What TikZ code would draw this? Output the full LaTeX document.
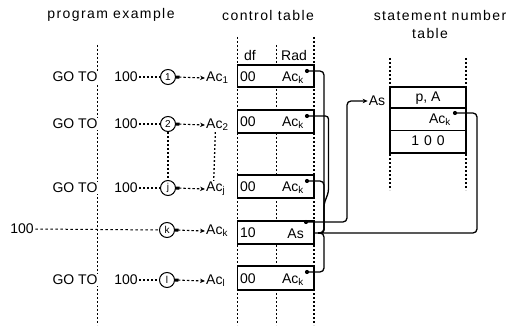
\documentclass[tikz,border=0pt]{standalone}
\usepackage{fontspec}
\setmainfont{Liberation Sans}
\newfontfamily\hdfont{Liberation Sans}[LetterSpace=10]
\usetikzlibrary{arrows.meta}
\begin{document}
\begin{tikzpicture}[x=1pt,y=-1pt,
  every node/.style={inner sep=1pt, font=\fontsize{14}{16}\selectfont},
  hd/.style={font=\hdfont\fontsize{14}{16}\selectfont},
  dotv/.style={line width=1.3pt, dash pattern=on 1.8pt off 2.2pt},
  dashh/.style={line width=1pt, dash pattern=on 2.6pt off 2.4pt},
  cell/.style={draw, line width=1.3pt, fill=white},
  circ/.style={draw, circle, line width=1pt, minimum size=15pt, inner sep=0pt, font=\fontsize{10}{11}\selectfont},
  lnk/.style={line width=1.3pt, rounded corners=4pt},
  ptr/.style={circle, fill, inner sep=0pt, minimum size=4.2pt},
  darr/.style={line width=1.1pt, dash pattern=on 2.5pt off 2pt, {Square[length=3.5pt,width=3pt]}-{Stealth[length=5pt,width=4.5pt]}},
  blank/.style={fill=white, inner sep=1.5pt},
]
\useasboundingbox (0,0) rectangle (517,329);

% dotted verticals
\draw[dotv] (97.5,45) -- (97.5,325);
\draw[dotv] (237.5,37) -- (237.5,325);
\draw[dotv] (276.5,45) -- (276.5,325);
\draw[dotv] (314,37) -- (314,325);
\draw[dotv] (390,58) -- (390,190);
\draw[dotv] (466,58) -- (466,190);

% control table cells
\draw[cell] (237.5,65) rectangle (314,87);
\draw[cell] (237.5,110) rectangle (314,133);
\draw[cell] (237.5,175) rectangle (314,198);
\draw[cell] (237.5,221) rectangle (314,244);
\draw[cell] (237.5,266) rectangle (314,290);

% statement number table
\draw[cell] (390,87) rectangle (466,153);
\draw[line width=1.1pt] (390,108) -- (466,108);
\draw[line width=0.8pt] (390,130) -- (466,130);

% headers
\node[hd] (t1) at (111,15) {program example};
\node[hd] (t2) at (268,15) {control table};
\node[hd] (t3) at (440,15) {statement number};
\node[hd] (t4) at (430,33) {table};
\node (df) at (250,55) {df};
\node (rad) at (294,55) {Rad};

% control table contents
\node[anchor=west] (c1a) at (239,77) {00};
\node[anchor=east] (c1b) at (305,78) {Ac\textsubscript{k}};
\node[ptr] (d1) at (307,71) {};
\node[anchor=west] (c2a) at (239,122) {00};
\node[anchor=east] (c2b) at (305,123) {Ac\textsubscript{k}};
\node[ptr] (d2) at (307,116) {};
\node[anchor=west] (cja) at (239,187) {00};
\node[anchor=east] (cjb) at (305,188) {Ac\textsubscript{k}};
\node[ptr] (dj) at (307,181) {};
\node[anchor=west] (cka) at (239,233) {10};
\node[anchor=east] (ckb) at (305,234) {As};
\node[ptr] (dk) at (306,222) {};
\node[anchor=west] (cla) at (239,279) {00};
\node[anchor=east] (clb) at (305,280) {Ac\textsubscript{k}};
\node[ptr] (dl) at (307,272) {};

% statement table contents
\node (sp) at (428,98) {p, A};
\node[anchor=east] (sa) at (452,120) {Ac\textsubscript{k}};
\node[ptr] (sd) at (455,113) {};
\node (s100) at (428,141) {1\hspace{5pt}0\hspace{5pt}0};
\node (as) at (377,101) {As};

% program example column
\node[blank] (g1) at (75,77) {GO TO};
\node[blank] (h1) at (126,77) {100};
\node[circ] (o1) at (168,77) {1};
\node[anchor=west] (a1) at (205,78) {Ac\textsubscript{1}};

\node[blank] (g2) at (75,124) {GO TO};
\node[blank] (h2) at (126,124) {100};
\node[circ] (o2) at (168,124) {2};
\node[anchor=west] (a2) at (205,125) {Ac\textsubscript{2}};

\node[blank] (gj) at (75,188) {GO TO};
\node[blank] (hj) at (126,188) {100};
\node[circ] (oj) at (168,188) {j};
\node[anchor=west] (aj) at (205,189) {Ac\textsubscript{j}};

\node[blank] (hk) at (22,229) {100};
\node[circ] (ok) at (167,230) {k};
\node[anchor=west] (ak) at (205,231) {Ac\textsubscript{k}};

\node[blank] (gl) at (75,280) {GO TO};
\node[blank] (hl) at (126,280) {100};
\node[circ] (ol) at (167,280) {l};
\node[anchor=west] (al) at (205,281) {Ac\textsubscript{l}};

% program example links
\draw[dotv] (h1.east) -- (o1.west);
\draw[dotv] (h2.east) -- (o2.west);
\draw[dotv] (hj.east) -- (oj.west);
\draw[dashh] (hk.east) -- (ok.west);
\draw[dotv] (hl.east) -- (ol.west);
\draw[darr] (o1.east) -- (a1.west);
\draw[darr] (o2.east) -- (a2.west);
\draw[darr] (oj.east) -- (aj.west);
\draw[darr] (ok.east) -- (ak.west);
\draw[darr] (ol.east) -- (al.west);
\draw[dotv] (o2.south) -- (oj.north);
\draw[dotv] ([xshift=-2pt]a2.south) -- ([xshift=-2pt]aj.north);

% pointer chains in the control table
\coordinate (J) at (318,233);
\coordinate (E) at (314,233);
\draw[lnk] (d1.center) -- (324,71) -- (324,233) -- (J);
\draw[lnk, rounded corners=3pt] (d2.center) -- (328.5,116) -- (328.5,192) -- (324,204) -- (324,233) -- (J);
\draw[lnk] (dj.center) -- (324,181) -- (324,233) -- (J);
\draw[lnk] (dl.center) -- (324,272) -- (324,233) -- (J);
\draw[lnk] (sd.center) -- (477,113) -- (477,233) -- (E);
\draw[lnk, -{Stealth[length=5pt,width=4.5pt]}] (dk.center) -- (347,222) -- (347,101) -- (as.west);
\end{tikzpicture}
\end{document}
